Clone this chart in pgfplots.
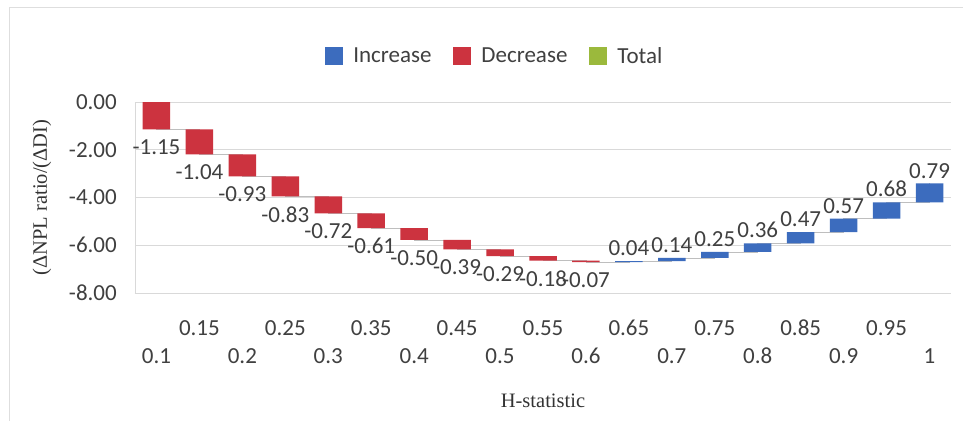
\documentclass[border=0pt]{standalone}
\usepackage{fontspec}
\usepackage{pgfplots}
\usepackage{pgfplotstable}
\pgfplotsset{compat=1.18}

\newfontfamily\lab{Carlito}
\newfontfamily\tms{Liberation Serif}
\newcommand\labfont{\lab\fontsize{23bp}{27bp}\selectfont}
\newcommand\titfont{\tms\fontsize{20.5bp}{24bp}\selectfont}

\definecolor{incblue}{RGB}{60,108,190}
\definecolor{decred}{RGB}{204,51,63}
\definecolor{totgreen}{RGB}{155,185,60}
\definecolor{gridgray}{RGB}{217,217,217}
\definecolor{framegray}{RGB}{222,222,222}
\definecolor{connector}{RGB}{190,190,190}

% waterfall steps: upper edge of each bar, its drop (decrease) or rise
% (increase, stored downward from the upper edge), and the level after the step
\pgfplotstableread{
idx top   dec   inc   end
0    0.00 -1.15  0    -1.15
1   -1.15 -1.04  0    -2.19
2   -2.19 -0.93  0    -3.12
3   -3.12 -0.83  0    -3.95
4   -3.95 -0.72  0    -4.67
5   -4.67 -0.61  0    -5.28
6   -5.28 -0.50  0    -5.78
7   -5.78 -0.39  0    -6.17
8   -6.17 -0.29  0    -6.46
9   -6.46 -0.18  0    -6.64
10  -6.64 -0.07  0    -6.71
11  -6.67  0    -0.04 -6.67
12  -6.53  0    -0.14 -6.53
13  -6.28  0    -0.25 -6.28
14  -5.92  0    -0.36 -5.92
15  -5.45  0    -0.47 -5.45
16  -4.88  0    -0.57 -4.88
17  -4.20  0    -0.68 -4.20
18  -3.41  0    -0.79 -3.41
}\steps

% value labels as printed on the bars
\pgfplotstableread{
idx end   txt
0   -1.15 -1.15
1   -2.19 -1.04
2   -3.12 -0.93
3   -3.95 -0.83
4   -4.67 -0.72
5   -5.28 -0.61
6   -5.78 -0.50
7   -6.17 -0.39
8   -6.46 -0.29
9   -6.64 -0.18
10  -6.71 -0.07
11  -6.67 0.04
12  -6.53 0.14
13  -6.28 0.25
14  -5.92 0.36
15  -5.45 0.47
16  -4.88 0.57
17  -4.20 0.68
18  -3.41 0.79
}\vals

\pgfplotsset{
  frame/.style={
    scale only axis, width=816bp, height=191bp,
    xmin=-0.5, xmax=18.5, ymin=-8, ymax=0,
  },
}

\begin{document}
\begin{tikzpicture}
\useasboundingbox (-135bp,-128bp) rectangle (828bp,293bp);
\fill[white] (-135bp,-128bp) rectangle (828bp,293bp);
\draw[framegray, line width=1bp] (-125bp,-128bp) -- (-125bp,285bp) -- (828bp,285bp);

% grid, ticks, labels, connectors and legend
\begin{axis}[
  frame,
  axis x line*=bottom, axis y line*=left,
  x axis line style={draw=gridgray, line width=0.8bp},
  y axis line style={draw=gridgray, line width=0.8bp},
  major tick length=0pt,
  ymajorgrids, grid style={gridgray, line width=0.8bp},
  ytick={-8,-6,-4,-2,0},
  yticklabel style={font=\labfont, text=black!75, anchor=east, inner sep=0pt, xshift=-18bp,
    /pgf/number format/.cd, fixed, fixed zerofill, precision=2, assume math mode=true},
  xtick={0,...,18},
  xticklabels={\raisebox{-28bp}{0.1},0.15,\raisebox{-28bp}{0.2},0.25,\raisebox{-28bp}{0.3},0.35,
    \raisebox{-28bp}{0.4},0.45,\raisebox{-28bp}{0.5},0.55,\raisebox{-28bp}{0.6},0.65,
    \raisebox{-28bp}{0.7},0.75,\raisebox{-28bp}{0.8},0.85,\raisebox{-28bp}{0.9},0.95,
    \raisebox{-28bp}{1}},
  xticklabel style={font=\labfont, text=black!75, anchor=base, inner sep=0pt, yshift=-42bp},
  xlabel={H-statistic},
  xlabel style={font=\titfont, text=black!80, at={(axis description cs:0.5,0)}, anchor=base, inner sep=0pt, yshift=-114bp},
  ylabel={(ΔNPL ratio/(ΔDI)},
  ylabel style={font=\titfont, text=black!80, at={(axis description cs:-0.114,0.5)}, anchor=center, inner sep=0pt},
  legend columns=3,
  legend image code/.code={\fill[#1, draw=none] (0bp,-9bp) rectangle (18bp,9bp); \path[draw=none, fill=none] (26bp,0bp);},
  legend style={draw=none, fill=none, font=\labfont, text=black!75,
    at={(axis description cs:0.441,1)}, anchor=center, yshift=46bp,
    /tikz/every even column/.append style={column sep=20bp}},
]
\addlegendimage{fill=incblue}
\addlegendentry{Increase}
\addlegendimage{fill=decred}
\addlegendentry{Decrease}
\addlegendimage{fill=totgreen}
\addlegendentry{Total}

% connectors between consecutive steps
\addplot[const plot mark left, connector, line width=0.7bp, mark=none, forget plot]
  table[x=idx, y=end] {\vals};

% value labels: below falling bars, above rising ones
\addplot[draw=none, mark=none, forget plot, restrict x to domain=0:10,
  nodes near coords, point meta=explicit symbolic,
  nodes near coords style={font=\labfont, text=black!75, anchor=north, inner sep=0pt, yshift=-10bp}]
  table[x=idx, y=end, meta=txt] {\vals};
\addplot[draw=none, mark=none, forget plot, restrict x to domain=11:18,
  nodes near coords, point meta=explicit symbolic,
  nodes near coords style={font=\labfont, text=black!75, anchor=south, inner sep=0pt, yshift=5bp}]
  table[x=idx, y=end, meta=txt] {\vals};
\end{axis}

% the waterfall bars, hung downward from their upper edges
\begin{axis}[
  frame, hide axis,
  ybar stacked, bar width=27.5bp,
]
\addplot[fill=none, draw=none] table[x=idx, y=top] {\steps};
\addplot[fill=decred, draw=none] table[x=idx, y=dec] {\steps};
\addplot[fill=incblue, draw=none] table[x=idx, y=inc] {\steps};
\end{axis}
\end{tikzpicture}
\end{document}
